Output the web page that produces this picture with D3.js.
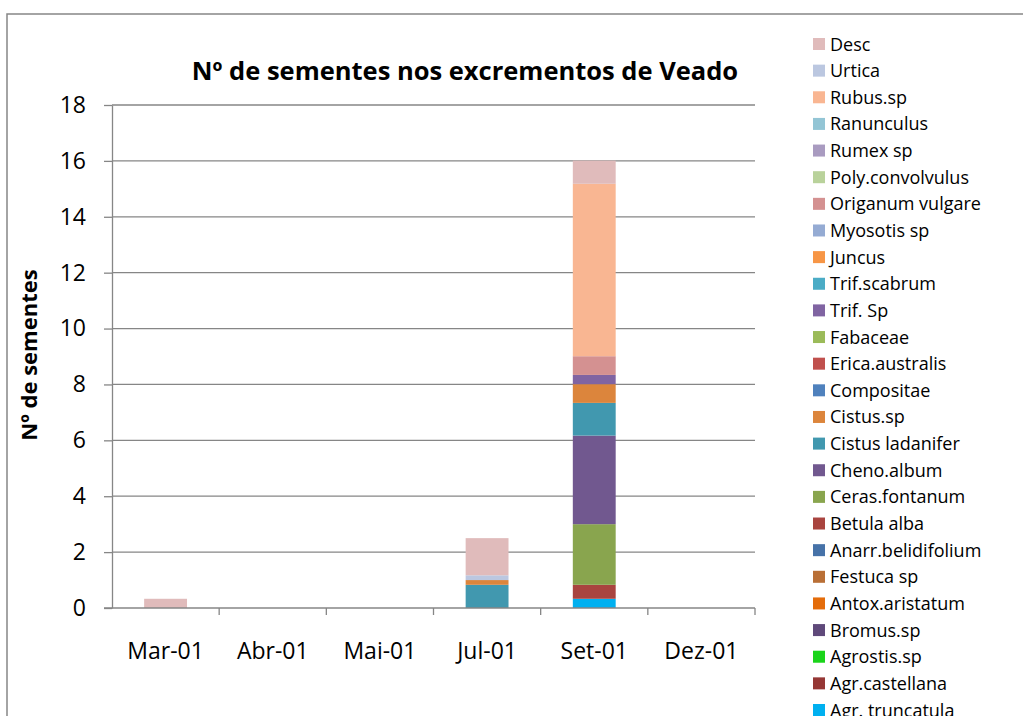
<!DOCTYPE html>
<html>
<head>
<meta charset="utf-8">
<script src="https://cdn.jsdelivr.net/npm/d3@7"></script>
<style>
  body { margin: 0; background: #fff; }
  text { font-family: "Open Sans", "Liberation Sans", sans-serif; fill: #000; }
</style>
</head>
<body>
<div id="chart"></div>
<script>

// months on the x axis
var categories = ["Mar-01", "Abr-01", "Mai-01", "Jul-01", "Set-01", "Dez-01"];

// species, in legend order (top of the stack first)
var species = ["Desc", "Urtica", "Rubus.sp", "Ranunculus", "Rumex sp",
    "Poly.convolvulus", "Origanum vulgare", "Myosotis sp", "Juncus",
    "Trif.scabrum", "Trif. Sp", "Fabaceae", "Erica.australis", "Compositae",
    "Cistus.sp", "Cistus ladanifer", "Cheno.album", "Ceras.fontanum",
    "Betula alba", "Anarr.belidifolium", "Festuca sp", "Antox.aristatum",
    "Bromus.sp", "Agrostis.sp", "Agr.castellana", "Agr. truncatula"];

var speciesColors = ["#e0bbbb", "#bbc7e0", "#f9b692", "#93c5d5", "#a99bc0",
    "#b9d29b", "#d49191", "#95abd3", "#f79646", "#4bacc6", "#8064a2",
    "#9bbb59", "#c0504d", "#4f81bd", "#dc853c", "#4198af", "#71588f",
    "#89a54e", "#a9443f", "#4672a8", "#b96f36", "#e46c0a", "#5f497a",
    "#1ad41a", "#953735", "#00b0f0"];

// mean seeds per month, same order as species
var seedsMar = [0.33, 0, 0, 0, 0, 0, 0, 0, 0, 0, 0, 0, 0, 0, 0, 0, 0, 0, 0, 0, 0, 0, 0, 0, 0, 0];
var seedsAbr = [0, 0, 0, 0, 0, 0, 0, 0, 0, 0, 0, 0, 0, 0, 0, 0, 0, 0, 0, 0, 0, 0, 0, 0, 0, 0];
var seedsMai = [0, 0, 0, 0, 0, 0, 0, 0, 0, 0, 0, 0, 0, 0, 0, 0, 0, 0, 0, 0, 0, 0, 0, 0, 0, 0];
var seedsJul = [1.33, 0.17, 0, 0, 0, 0, 0, 0, 0, 0, 0, 0, 0, 0, 0.17, 0.83, 0, 0, 0, 0, 0, 0, 0, 0, 0, 0];
var seedsSet = [0.83, 0, 6.17, 0, 0, 0, 0.67, 0, 0, 0, 0.33, 0, 0, 0, 0.67, 1.17, 3.17, 2.17, 0.5, 0, 0, 0, 0, 0, 0, 0.33];
var seedsDez = [0, 0, 0, 0, 0, 0, 0, 0, 0, 0, 0, 0, 0, 0, 0, 0, 0, 0, 0, 0, 0, 0, 0, 0, 0, 0];

var yTicks = [0, 2, 4, 6, 8, 10, 12, 14, 16, 18];

var chartTitle = "Nº de sementes nos excrementos de Veado";
var yTitle = "Nº de sementes";

var width = 1023, height = 716;
var plot = {left: 112, right: 755, top: 105, bottom: 608};
var grey = "#868686";

var svg = d3.select("#chart").append("svg")
    .attr("width", width)
    .attr("height", height);

// outer chart frame (runs off the picture on the right and bottom)
svg.append("rect")
    .attr("x", 7).attr("y", 14)
    .attr("width", 1100).attr("height", 800)
    .attr("fill", "none")
    .attr("stroke", grey)
    .attr("stroke-width", 1.5);

var xScale = d3.scaleBand()
    .domain(categories)
    .range([plot.left, plot.right])
    .padding(0);

var yScale = d3.scaleLinear()
    .domain([0, 18])
    .range([plot.bottom, plot.top]);

// gridlines
svg.append("g").selectAll("line")
    .data(yTicks.filter(d => d > 0))
    .enter().append("line")
    .attr("x1", plot.left).attr("x2", plot.right)
    .attr("y1", d => yScale(d)).attr("y2", d => yScale(d))
    .attr("stroke", grey).attr("stroke-width", 1.3);

// build table for the stack: one row per month
var monthSeries = [seedsMar, seedsAbr, seedsMai, seedsJul, seedsSet, seedsDez];
var table = categories.map(function(c, i) {
    var row = {month: c};
    species.forEach(function(s, j) { row[s] = monthSeries[i][j]; });
    return row;
});

var stackOrder = species.slice().reverse();
var stacked = d3.stack().keys(stackOrder)(table);
var colorOf = d3.scaleOrdinal().domain(species).range(speciesColors);

var barW = xScale.bandwidth() * 0.4;

svg.append("g").selectAll("g")
    .data(stacked)
    .enter().append("g")
    .attr("fill", d => colorOf(d.key))
    .selectAll("rect")
    .data(d => d.filter(p => p[1] - p[0] > 0))
    .enter().append("rect")
    .attr("x", d => xScale(d.data.month) + (xScale.bandwidth() - barW) / 2)
    .attr("width", barW)
    .attr("y", d => yScale(d[1]))
    .attr("height", d => yScale(d[0]) - yScale(d[1]));

// y axis
var yAxis = d3.axisLeft(yScale)
    .tickValues(yTicks)
    .tickSize(8)
    .tickPadding(18)
    .tickSizeOuter(0);

var yG = svg.append("g")
    .attr("transform", "translate(" + plot.left + ",0)")
    .call(yAxis);
yG.select(".domain").attr("stroke", grey).attr("stroke-width", 1.3);
yG.selectAll(".tick line").attr("stroke", grey).attr("stroke-width", 1.3);
yG.selectAll("text")
    .attr("font-size", 23)
    .attr("font-family", "Open Sans")
    .attr("fill", "#000");

// x axis: ticks sit between the months
var xG = svg.append("g")
    .attr("transform", "translate(0," + plot.bottom + ")");
xG.append("line")
    .attr("x1", plot.left - 8).attr("x2", plot.right)
    .attr("stroke", grey).attr("stroke-width", 1.3);
var bounds = categories.map(c => xScale(c) + xScale.bandwidth());
xG.selectAll("line.tk")
    .data(bounds)
    .enter().append("line")
    .attr("class", "tk")
    .attr("x1", d => d).attr("x2", d => d)
    .attr("y1", 0).attr("y2", 7)
    .attr("stroke", grey).attr("stroke-width", 1.3);
xG.selectAll("text")
    .data(categories)
    .enter().append("text")
    .attr("x", d => xScale(d) + xScale.bandwidth() / 2)
    .attr("y", 51)
    .attr("text-anchor", "middle")
    .attr("font-size", 23)
    .text(d => d);

// titles
svg.append("text")
    .attr("x", 465).attr("y", 80)
    .attr("text-anchor", "middle")
    .attr("font-size", 25.5)
    .attr("font-weight", "bold")
    .text(chartTitle);

svg.append("text")
    .attr("transform", "translate(37,355) rotate(-90)")
    .attr("text-anchor", "middle")
    .attr("font-size", 22)
    .attr("font-weight", "bold")
    .text(yTitle);

// legend
var legend = svg.append("g")
    .attr("transform", "translate(813, 44)");

var items = legend.selectAll("g")
    .data(species)
    .enter().append("g")
    .attr("transform", (d, i) => "translate(0," + (i * 26.64) + ")");

items.append("rect")
    .attr("x", 0).attr("y", -6)
    .attr("width", 12).attr("height", 12)
    .attr("fill", d => colorOf(d));

items.append("text")
    .attr("x", 17).attr("y", 6.5)
    .attr("font-size", 18)
    .text(d => d);

</script>
</body>
</html>
